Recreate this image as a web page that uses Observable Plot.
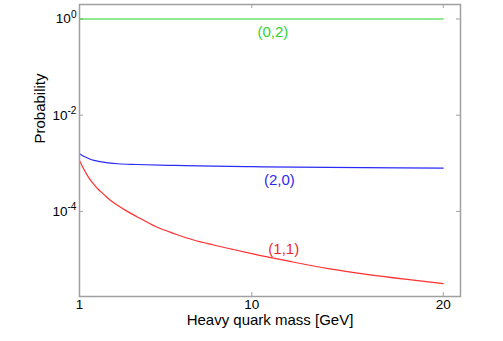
<!DOCTYPE html>
<html>
<head>
<meta charset="utf-8">
<script src="https://cdn.jsdelivr.net/npm/d3@7"></script>
<script src="https://cdn.jsdelivr.net/npm/@observablehq/plot@0.6"></script>
<style>
  html, body { margin: 0; padding: 0; background: #fff; }
</style>
</head>
<body>
<div id="chart"></div>
<script>
// Data
const greenMass = [1, 20];
const greenProb = [1, 1];

const blueMass = [1, 1.25, 1.5, 1.75, 2, 2.5, 3, 4, 6, 8, 10, 14, 20];
const blueProb = [1.585e-3, 1.38e-3, 1.245e-3, 1.148e-3, 1.096e-3, 1.023e-3, 9.77e-4, 9.44e-4, 9.02e-4, 8.71e-4, 8.51e-4, 8.22e-4, 7.94e-4];

const redMass = [1, 1.25, 1.5, 1.75, 2, 2.25, 2.5, 3, 3.5, 4, 5, 6, 7, 8, 9, 10, 12, 14, 16, 18, 20];
const redProb = [1.148e-3, 7.24e-4, 4.9e-4, 3.63e-4, 2.82e-4, 2.29e-4, 1.86e-4, 1.32e-4, 1.0e-4, 7.76e-5, 4.79e-5, 3.39e-5, 2.51e-5, 2.0e-5, 1.62e-5, 1.32e-5, 9.1e-6, 6.46e-6, 4.9e-6, 3.89e-6, 3.16e-6];

const labelText = ["(0,2)", "(2,0)", "(1,1)"];
const labelMass = [11.1, 11.44, 11.67];
const labelProb = [0.54, 4.4e-4, 1.6e-5];
const labelColor = ["#2fd42f", "#2b2bf0", "#f02a2a"];

const xTicks = [1, 10, 20];
const yTicks = [1, 1e-2, 1e-4];
const xTitle = "Heavy quark mass [GeV]";
const yTitle = "Probability";

const W = 503, H = 341;
const mL = 79, mR = 43, mT = 4, mB = 45;
const innerW = W - mL - mR, innerH = H - mT - mB;

const toRows = (xs, ys) => xs.map((x, i) => ({x, y: ys[i]}));
const green = toRows(greenMass, greenProb);
const blue = toRows(blueMass, blueProb);
const red = toRows(redMass, redProb);
const labels = labelText.map((t, i) => ({t, x: labelMass[i], y: labelProb[i], c: labelColor[i]}));

const frameColor = "#a0a0a0";

const svg = Plot.plot({
  width: W,
  height: H,
  marginLeft: mL,
  marginRight: mR,
  marginTop: mT,
  marginBottom: mB,
  style: {fontFamily: "'Liberation Sans', Arial, sans-serif", fontSize: "13.5px", color: "#000", background: "#fff"},
  x: {domain: [1, 20.9]},
  y: {type: "log", domain: [1.7e-6, 2]},
  marks: [
    Plot.axisX({ticks: xTicks, tickSize: 0, tickPadding: 3, tickFormat: d => String(d), label: null}),
    Plot.axisY({ticks: yTicks, tickSize: 0, tickPadding: 3, tickFormat: d => String(Math.round(Math.log10(d))), label: null}),
    Plot.tickX(xTicks, {x: d => d, insetTop: innerH - 4, stroke: frameColor, strokeWidth: 1}),
    Plot.tickX(xTicks, {x: d => d, insetBottom: innerH - 4, stroke: frameColor, strokeWidth: 1}),
    Plot.tickY(yTicks, {y: d => d, insetRight: innerW - 4, stroke: frameColor, strokeWidth: 1}),
    Plot.tickY(yTicks, {y: d => d, insetLeft: innerW - 4, stroke: frameColor, strokeWidth: 1}),
    Plot.line(green, {x: "x", y: "y", stroke: "#22d822", strokeWidth: 1.2}),
    Plot.line(blue, {x: "x", y: "y", stroke: "#2b2bf5", strokeWidth: 1.2, curve: "monotone-x"}),
    Plot.line(red, {x: "x", y: "y", stroke: "#ff3030", strokeWidth: 1.2, curve: "monotone-x"}),
    Plot.text(labels, {x: "x", y: "y", text: "t", fill: "c", fontSize: 15}),
    Plot.frame({stroke: frameColor, strokeWidth: 1.5}),
    Plot.text([xTitle], {frameAnchor: "bottom", dy: 28, text: d => d, fontSize: 15, fill: "#000"}),
    Plot.text([yTitle], {frameAnchor: "left", dx: -39, dy: -7, rotate: -90, text: d => d, fontSize: 15, fill: "#000"})
  ]
});

d3.select(svg).selectAll('g[aria-label="y-axis tick label"] text').each(function () {
  const e = this.textContent;
  this.textContent = "10";
  d3.select(this).append("tspan").attr("dy", "-0.55em").attr("font-size", "0.75em").text(e);
});

document.getElementById("chart").appendChild(svg);
</script>
</body>
</html>
